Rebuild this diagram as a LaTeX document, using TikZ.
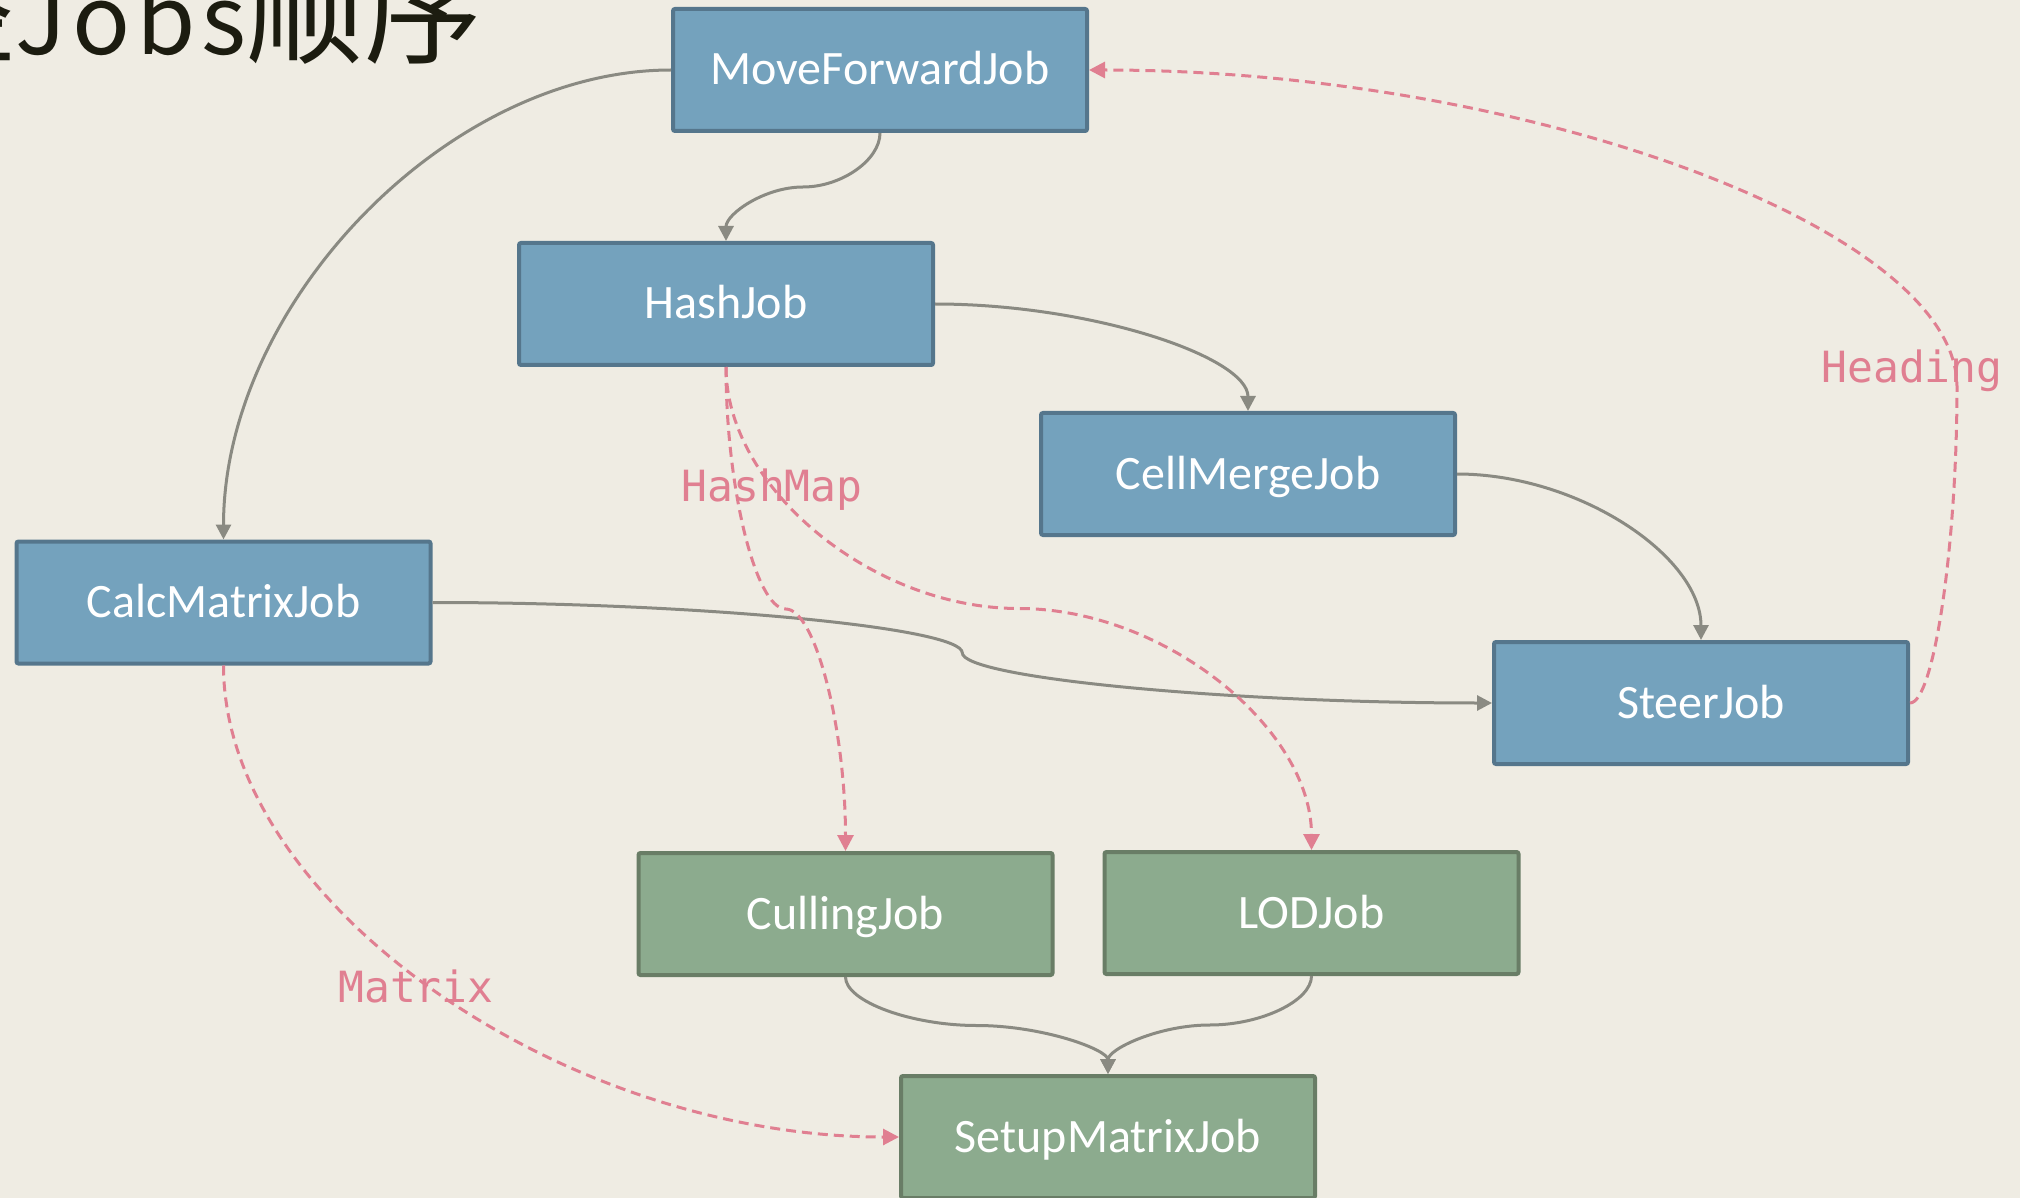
\documentclass[tikz,border=0pt]{standalone}
\usepackage{fontspec}
\setmainfont{Carlito}
\newfontfamily\monofont{DejaVu Sans Mono}
\newfontfamily\cjkfont{Noto Sans CJK SC}
\usetikzlibrary{arrows.meta,calc}
\definecolor{paper}{HTML}{EFECE3}
\definecolor{jobblue}{HTML}{74A2BD}
\definecolor{jobblueedge}{HTML}{55768C}
\definecolor{jobgreen}{HTML}{8CAB8E}
\definecolor{jobgreenedge}{HTML}{697D66}
\definecolor{flowgray}{HTML}{8A8A82}
\definecolor{datapink}{HTML}{E07F91}
\definecolor{titleink}{HTML}{1C1C10}
\tikzset{
  jobbox/.style={draw, line width=2pt, rounded corners=1pt, minimum width=207pt,
    minimum height=61pt, inner sep=0pt, text height=17pt, text depth=2pt,
    text=white, font=\fontsize{24}{28}\selectfont},
  bluejob/.style={jobbox, fill=jobblue, draw=jobblueedge},
  greenjob/.style={jobbox, fill=jobgreen, draw=jobgreenedge},
  flow/.style={draw=flowgray, line width=1.5pt, -{Triangle[length=7.5pt,width=7.5pt]}},
  dataflow/.style={draw=datapink, line width=1.5pt, dash pattern=on 5pt off 3pt,
    -{Triangle[length=8pt,width=8pt]}},
  datalabel/.style={text=datapink, font=\monofont\fontsize{21.5}{24}\selectfont,
    inner sep=0pt, anchor=base},
}
\begin{document}
\begin{tikzpicture}[x=0.5pt,y=-0.5pt]
\fill[paper] (0,0) rectangle (2020,1198);
\useasboundingbox (0,0) rectangle (2020,1198);
\clip (0,0) rectangle (2020,1198);

% heading, running off the left edge
\node[anchor=base east, inner sep=0pt, text=titleink,
  font=\cjkfont\fontsize{59}{64}\selectfont] (title) at (483,55)
  {调整{\fontsize{48}{52}\selectfont\addfontfeature{LetterSpace=6}Jobs}顺序};

% jobs
\node[bluejob] (mf)    at (880,70)      {MoveForwardJob};
\node[bluejob] (hash)  at (726,304)     {HashJob};
\node[bluejob] (cell)  at (1248,474)    {CellMergeJob};
\node[bluejob] (calc)  at (223.5,602.5) {CalcMatrixJob};
\node[bluejob] (steer) at (1701,703)    {SteerJob};
\node[greenjob] (cull)  at (845.5,914)  {CullingJob};
\node[greenjob] (lod)   at (1311.5,913) {LODJob};
\node[greenjob] (setup) at (1108,1137)  {SetupMatrixJob};

% data labels
\node[datalabel] (lblheading) at (1912,383) {Heading};
\node[datalabel] (lblhash)    at (772,502)  {HashMap};
\node[datalabel] (lblmatrix)  at (416,1002) {Matrix};

% bend points of the S-shaped connectors
\coordinate (b1) at ($(mf.south)!0.5!(hash.north)$);
\coordinate (b2) at ($(calc.east)!0.5!(steer.west)$);
\coordinate (b3) at ($(cull.south)!0.5!(setup.north)$);
\coordinate (b4) at ($(lod.south)!0.5!(setup.north)$);
\coordinate (b5) at ($(hash.south)!0.5!(cull.north)$);
\coordinate (b6) at ($(hash.south)!0.5!(lod.north)$);
\coordinate (b7) at (1957,386.5);

% execution order
\draw[flow] (mf.west) .. controls +(-223.75,0) and +(0,-235) .. (calc.north);
\draw[flow] (mf.south) .. controls +(0,27) and +(38.5,0) .. (b1)
  .. controls +(-38.5,0) and +(0,-27) .. (hash.north);
\draw[flow] (hash.east) .. controls +(156.5,0) and +(0,-54) .. (cell.north);
\draw[flow] (cell.east) .. controls +(122,0) and +(0,-83.5) .. (steer.north);
\draw[flow] (calc.east) .. controls +(264.75,0) and +(0,-25.1) .. (b2)
  .. controls +(0,25.1) and +(-264.75,0) .. (steer.west);
\draw[flow] (cull.south) .. controls +(0,24.5) and +(-65.6,0) .. (b3)
  .. controls +(65.6,0) and +(0,-24.5) .. (setup.north);
\draw[flow] (lod.south) .. controls +(0,25) and +(50.9,0) .. (b4)
  .. controls +(-50.9,0) and +(0,-25) .. (setup.north);

% data dependencies
\draw[dataflow] (steer.east) .. controls +(24,0) and +(0,158.25) .. (b7)
  .. controls +(0,-158.25) and +(434,0) .. (mf.east);
\draw[dataflow] (hash.south) .. controls +(0,121) and +(-29.9,0) .. (b5)
  .. controls +(29.9,0) and +(0,-121) .. (cull.north);
\draw[dataflow] (hash.south) .. controls +(0,121) and +(-146.4,0) .. (b6)
  .. controls +(146.4,0) and +(0,-121) .. (lod.north);
\draw[dataflow] (calc.south) .. controls +(0,236) and +(-337.75,0) .. (setup.west);
\end{tikzpicture}
\end{document}
